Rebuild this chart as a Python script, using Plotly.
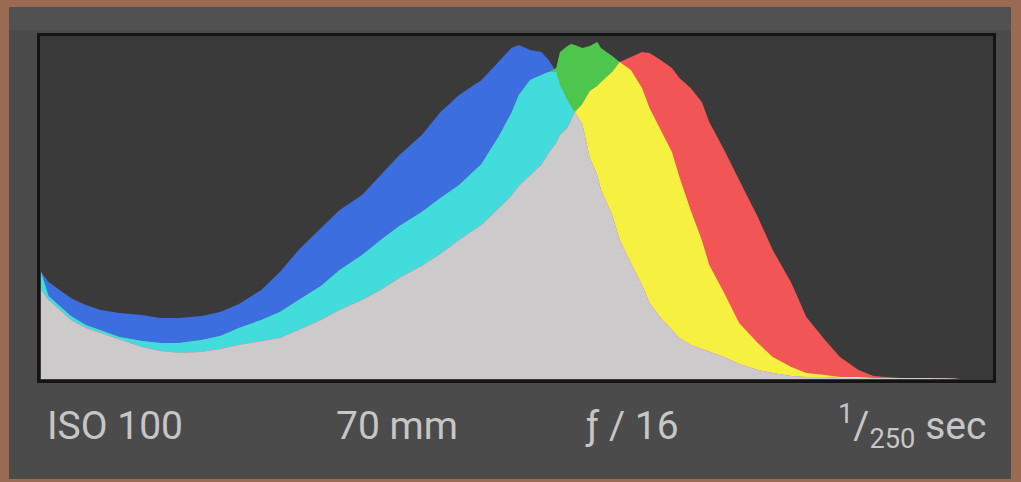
import numpy as np
import plotly.graph_objects as go

# Tone levels (0-255) at which the channel heights were read
levels = [0, 2, 5, 8, 12, 16, 21, 27, 32, 37,
          43, 48, 53, 59, 64, 69, 75, 80, 86, 91,
          96, 102, 107, 112, 118, 123, 126, 128, 131, 134,
          136, 138, 139, 141, 142, 143, 145, 146, 147, 149,
          150, 153, 155, 158, 161, 163, 166, 169, 171, 174,
          177, 179, 183, 187, 192, 196, 201, 205, 210, 214,
          219, 223, 230, 238, 246, 255]

# Relative pixel counts per channel
blue = [107, 97, 89, 81, 74, 69, 66, 64, 61, 61,
        63, 67, 75, 89, 107, 129, 151, 169, 184, 204,
        224, 244, 267, 284, 299, 319, 331, 334, 329, 327,
        319, 307, 294, 279, 272, 267, 255, 239, 221, 204,
        189, 164, 139, 116, 94, 76, 61, 49, 41, 34,
        30, 27, 22, 15, 9, 6, 3, 2, 2, 1,
        1, 1, 1, 1, 0, 0]

green = [107, 83, 73, 63, 54, 49, 42, 38, 36, 36,
         39, 43, 51, 59, 67, 79, 93, 109, 124, 139,
         153, 167, 181, 194, 215, 245, 266, 284, 299, 304,
         307, 311, 327, 333, 335, 334, 331, 332, 333, 337,
         331, 323, 317, 309, 291, 271, 249, 227, 202, 169,
         139, 114, 86, 56, 36, 22, 12, 6, 4, 2,
         2, 1, 1, 1, 0, 0]

red = [89, 79, 69, 59, 51, 46, 39, 32, 28, 26,
       27, 30, 34, 38, 41, 49, 59, 69, 79, 89,
       101, 113, 125, 139, 154, 172, 183, 193, 203, 214,
       226, 236, 244, 251, 259, 267, 275, 282, 288, 293,
       297, 307, 317, 322, 327, 326, 319, 311, 301, 291,
       277, 257, 229, 199, 162, 129, 96, 62, 39, 22,
       9, 3, 1, 1, 0, 0]

exif_labels = ["ISO 100", "70 mm", "ƒ / 16", "<sup>1</sup>/<sub>250</sub> sec"]

B = np.array(blue)
G = np.array(green)
R = np.array(red)

layers = [
    (B, "#3d6ee0"),
    (G, "#4ec64e"),
    (np.minimum(B, G), "#42dcdc"),
    (R, "#f25555"),
    (np.minimum(R, G), "#f6f040"),
    (np.minimum(R, B), "#e040e0"),
    (np.minimum(np.minimum(R, G), B), "#cccaca"),
]

fig = go.Figure()
for vals, col in layers:
    fig.add_trace(go.Scatter(
        x=levels, y=vals, mode="lines", fill="tozeroy",
        line=dict(width=0, color=col), fillcolor=col,
        hoverinfo="skip", showlegend=False))

W, H = 1021, 482
L, Rm, T, Bm = 41, 28, 36, 103
pw, ph = W - L - Rm, H - T - Bm

def px(x):
    return (x - L) / pw

def py(y):
    return (H - Bm - y) / ph

shapes = [
    # gray panel
    dict(type="rect", xref="paper", yref="paper", layer="below",
         x0=px(9), x1=px(1011), y0=py(479), y1=py(7),
         fillcolor="#4b4b4b", line=dict(width=0)),
    # lighter top bevel of the panel
    dict(type="rect", xref="paper", yref="paper", layer="below",
         x0=px(9), x1=px(1011), y0=py(30), y1=py(7),
         fillcolor="#515151", line=dict(width=0)),
    # inner dark area
    dict(type="rect", xref="paper", yref="paper", layer="below",
         x0=px(38), x1=px(995), y0=py(382), y1=py(35),
         fillcolor="#3a3a3a", line=dict(width=0)),
    # black frame
    dict(type="rect", xref="paper", yref="paper", layer="above",
         x0=px(38.5), x1=px(994.5), y0=py(381.5), y1=py(34.5),
         fillcolor="rgba(0,0,0,0)", line=dict(width=3, color="#141414")),
]

ann_x = [(45, "left"), (397, "center"), (632, "center"), (988, "right")]
annotations = []
for (xp, anc), txt in zip(ann_x, exif_labels):
    annotations.append(dict(
        text=txt, xref="paper", yref="paper", x=px(xp), y=py(426),
        xanchor=anc, yanchor="middle", showarrow=False,
        font=dict(family="Roboto, sans-serif", size=39, color="#c6c6c6")))

fig.update_layout(
    width=W, height=H,
    margin=dict(l=L, r=Rm, t=T, b=Bm, pad=0),
    paper_bgcolor="#9a6a52",
    plot_bgcolor="#3a3a3a",
    xaxis=dict(range=[0, 255], visible=False, fixedrange=True),
    yaxis=dict(range=[0, ph], visible=False, fixedrange=True),
    shapes=shapes,
    annotations=annotations,
)

fig.write_html("out.html", config={"displayModeBar": False},
               post_script="document.body.style.margin='0';"
                           "document.body.style.overflow='hidden';")
